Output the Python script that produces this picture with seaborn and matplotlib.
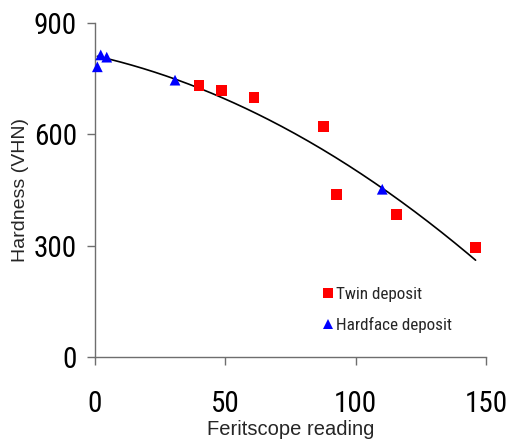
import numpy as np
import pandas as pd
import matplotlib
matplotlib.use("Agg")
import matplotlib.pyplot as plt
import seaborn as sns
from matplotlib import font_manager
from matplotlib.font_manager import FontProperties

# Twin deposit measurements
twin_ferrite = [39.9, 48.6, 61.0, 87.8, 92.6, 115.8, 146.0]
twin_hardness = [731, 719, 699, 622, 437, 385, 296]

# Hardface deposit measurements
hard_ferrite = [0.9, 2.2, 4.5, 30.7, 110.2]
hard_hardness = [782, 814, 808, 746, 452]

deposit_labels = ["Twin deposit", "Hardface deposit"]
x_ticks = [0, 50, 100, 150]
y_ticks = [0, 300, 600, 900]

sns.set_theme(style="white")
plt.rcParams["font.family"] = ["Liberation Sans", "DejaVu Sans"]


def narrow_font():
    """Pick a condensed sans face if one is installed."""
    fonts = font_manager.fontManager.ttflist
    for want in ("Liberation Sans Narrow", "Roboto Condensed", "Open Sans Condensed",
                 "Noto Sans Condensed"):
        for f in fonts:
            if f.name == want and f.weight in (400, "normal", "regular") and f.style == "normal":
                return FontProperties(fname=f.fname)
    for f in fonts:
        if f.style == "normal" and str(f.stretch) in ("condensed", "semi-condensed") \
                and f.weight in (400, "normal", "regular"):
            return FontProperties(fname=f.fname)
    for f in fonts:
        if ("Condensed" in f.fname or "Narrow" in f.fname) and "Bold" not in f.fname \
                and "Oblique" not in f.fname and "Italic" not in f.fname:
            return FontProperties(fname=f.fname)
    return None


nf = narrow_font()
if nf is None:
    tick_fp = FontProperties(family="Liberation Sans", size=17)
    leg_fp = FontProperties(family="Liberation Sans", size=11)
else:
    tick_fp = nf.copy()
    tick_fp.set_size(21)
    leg_fp = nf.copy()
    leg_fp.set_size(12.3)

df = pd.DataFrame({
    "ferrite": twin_ferrite + hard_ferrite,
    "hardness": twin_hardness + hard_hardness,
    "deposit": [deposit_labels[0]] * len(twin_ferrite) + [deposit_labels[1]] * len(hard_ferrite),
})

# second-order trend line through all measurements
coef = np.polyfit(df["ferrite"], df["hardness"], 2)
xs = np.linspace(df["ferrite"].min(), df["ferrite"].max(), 200)
trend = pd.DataFrame({"ferrite": xs, "hardness": np.polyval(coef, xs)})

fig = plt.figure(figsize=(5.07, 4.41), dpi=100)
ax = fig.add_axes([95 / 507, 1 - 357 / 441, 391 / 507, 334 / 441])

sns.lineplot(data=trend, x="ferrite", y="hardness", color="black", lw=1.2, ax=ax, zorder=2)
sns.scatterplot(data=df, x="ferrite", y="hardness", hue="deposit", style="deposit",
                palette={deposit_labels[0]: "#FF0000", deposit_labels[1]: "#0000FF"},
                markers={deposit_labels[0]: "s", deposit_labels[1]: "^"},
                s=60, linewidth=0, ax=ax, zorder=3, clip_on=False)

ax.set_xlim(0, 150)
ax.set_ylim(0, 900)
ax.set_xticks(x_ticks)
ax.set_yticks(y_ticks)
sns.despine(ax=ax)
for side in ("left", "bottom"):
    ax.spines[side].set_color("#6e6e6e")
    ax.spines[side].set_linewidth(1.0)
ax.tick_params(axis="both", direction="out", length=6, width=1.0, color="#6e6e6e",
               labelcolor="black", left=True, bottom=True)
ax.tick_params(axis="x", pad=18)
ax.tick_params(axis="y", pad=7)
for lab in ax.get_xticklabels() + ax.get_yticklabels():
    lab.set_fontproperties(tick_fp)

ax.set_xlabel("Feritscope reading", fontsize=14.5, labelpad=0)
ax.xaxis.set_label_coords(0.5, -63 / 334)
ax.set_ylabel("Hardness (VHN)", fontsize=14)
ax.yaxis.set_label_coords(-66 / 391, 0.5)

handles, labels = ax.get_legend_handles_labels()
leg = ax.legend(handles, labels, loc="upper left", bbox_to_anchor=(311 / 507, 1 - 287 / 441),
                bbox_transform=fig.transFigure, frameon=False, handletextpad=-0.55,
                labelspacing=0.85, borderpad=0, borderaxespad=0, markerscale=0.9,
                prop=leg_fp)

fig.savefig("out.png", dpi=100)
